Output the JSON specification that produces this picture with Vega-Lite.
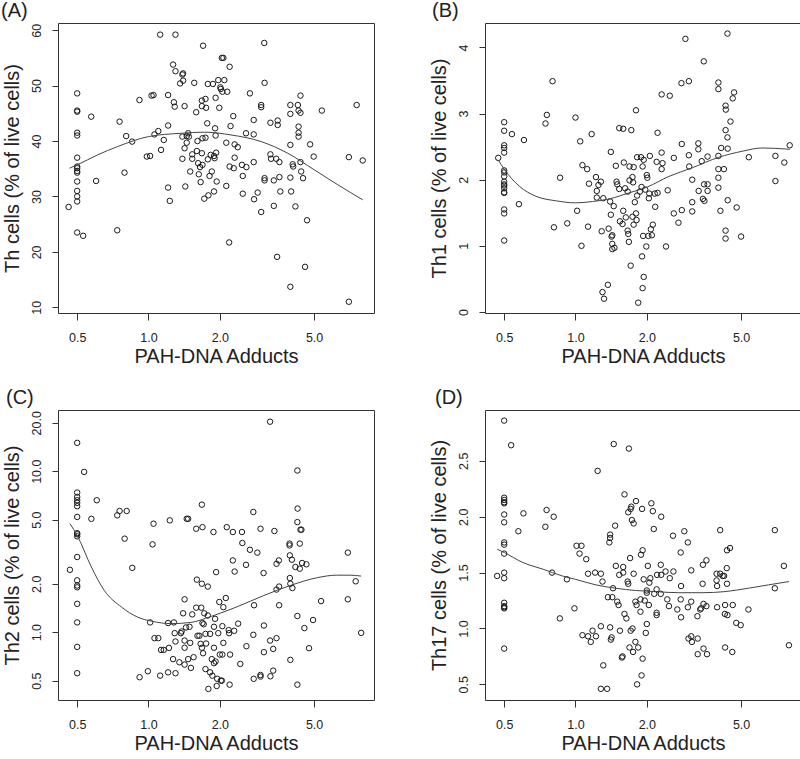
{
"$schema": "https://vega.github.io/schema/vega-lite/v6.json",
"padding": {"left": 0, "top": 0, "right": 0, "bottom": 0},
"background": "white",
"datasets": {
"A": [{"x":0.5,"y":48.6},{"x":0.5,"y":45.5},{"x":0.5,"y":45.3},{"x":0.5,"y":41.5},{"x":0.5,"y":41.0},{"x":0.5,"y":37.0},{"x":0.5,"y":35.4},{"x":0.5,"y":35.1},{"x":0.5,"y":34.6},{"x":0.5,"y":34.3},{"x":0.5,"y":32.7},{"x":0.5,"y":31.0},{"x":0.5,"y":30.0},{"x":0.5,"y":29.1},{"x":0.5,"y":23.5},{"x":0.46,"y":28.1},{"x":0.53,"y":22.9},
{"x":0.573,"y":44.4},{"x":0.601,"y":32.8},{"x":0.738,"y":23.9},{"x":0.755,"y":43.5},{"x":0.792,"y":34.3},{"x":0.805,"y":40.9},{"x":0.853,"y":39.9},{"x":0.916,"y":47.4},{"x":0.984,"y":37.2},{"x":1.016,"y":37.3},{"x":1.03,"y":48.2},{"x":1.05,"y":48.3},{"x":1.06,"y":41.2},{"x":1.10,"y":41.8},{"x":1.12,"y":59.2},{"x":1.13,"y":38.4},{"x":1.16,"y":40.2},{"x":1.21,"y":42.8},{"x":1.21,"y":48.3},{"x":1.21,"y":31.6},{"x":1.23,"y":29.2},{"x":1.27,"y":53.8},{"x":1.28,"y":47.0},{"x":1.29,"y":46.2},{"x":1.30,"y":52.6},{"x":1.30,"y":59.2},{"x":1.36,"y":50.4},{"x":1.39,"y":52.0},{"x":1.40,"y":52.2},{"x":1.40,"y":50.9},{"x":1.39,"y":40.8},{"x":1.39,"y":36.8},{"x":1.42,"y":38.7},{"x":1.42,"y":46.3},{"x":1.43,"y":31.8},{"x":1.45,"y":39.7},{"x":1.45,"y":40.9},{"x":1.47,"y":41.4},{"x":1.48,"y":40.8},{"x":1.50,"y":34.5},{"x":1.53,"y":37.6},{"x":1.53,"y":36.8},{"x":1.56,"y":50.5},{"x":1.59,"y":45.2},{"x":1.60,"y":38.2},{"x":1.61,"y":40.0},{"x":1.62,"y":36.0},{"x":1.63,"y":34.0},{"x":1.65,"y":35.3},{"x":1.66,"y":32.6},{"x":1.68,"y":47.3},{"x":1.68,"y":46.3},{"x":1.68,"y":37.8},{"x":1.69,"y":40.5},{"x":1.69,"y":35.7},{"x":1.70,"y":57.2},{"x":1.72,"y":29.6},{"x":1.74,"y":40.6},{"x":1.74,"y":47.6},{"x":1.75,"y":46.0},{"x":1.77,"y":43.2},{"x":1.78,"y":50.3},{"x":1.78,"y":36.7},{"x":1.79,"y":30.2},{"x":1.81,"y":33.7},{"x":1.83,"y":37.5},{"x":1.85,"y":34.5},{"x":1.87,"y":50.3},{"x":1.89,"y":30.9},{"x":1.89,"y":37.3},{"x":1.90,"y":36.9},{"x":1.91,"y":42.3},{"x":1.92,"y":47.8},{"x":1.92,"y":41.0},{"x":1.93,"y":37.9},{"x":1.94,"y":32.7},{"x":1.97,"y":51.0},{"x":1.99,"y":46.0},{"x":2.01,"y":49.7},{"x":2.02,"y":49.4},{"x":2.04,"y":55.0},{"x":2.07,"y":55.0},{"x":2.09,"y":51.0},{"x":2.05,"y":48.9},{"x":2.13,"y":39.7},{"x":2.15,"y":48.9},{"x":2.13,"y":31.9},{"x":2.20,"y":53.4},{"x":2.20,"y":35.4},{"x":2.22,"y":42.7},{"x":2.19,"y":21.7},{"x":2.28,"y":44.5},{"x":2.29,"y":35.1},{"x":2.31,"y":39.4},{"x":2.31,"y":37.0},{"x":2.38,"y":38.9},{"x":2.48,"y":35.7},{"x":2.50,"y":33.7},{"x":2.50,"y":30.5},{"x":2.58,"y":41.4},{"x":2.59,"y":35.3},{"x":2.68,"y":48.6},{"x":2.78,"y":43.8},{"x":2.78,"y":41.2},{"x":2.78,"y":36.2},{"x":2.79,"y":29.5},{"x":2.89,"y":30.7},{"x":2.99,"y":46.5},{"x":2.99,"y":46.1},{"x":2.99,"y":27.2},{"x":3.08,"y":57.7},{"x":3.09,"y":50.5},{"x":3.09,"y":33.3},{"x":3.09,"y":32.9},{"x":3.27,"y":43.3},{"x":3.27,"y":37.6},{"x":3.29,"y":36.8},{"x":3.38,"y":32.9},{"x":3.38,"y":28.3},{"x":3.46,"y":36.8},{"x":3.49,"y":19.1},{"x":3.51,"y":43.7},{"x":3.51,"y":42.9},{"x":3.57,"y":36.2},{"x":3.57,"y":33.5},{"x":3.60,"y":30.9},{"x":3.97,"y":46.5},{"x":3.97,"y":44.9},{"x":3.97,"y":39.3},{"x":3.97,"y":33.4},{"x":4.00,"y":30.9},{"x":3.97,"y":13.7},{"x":4.06,"y":35.8},{"x":4.08,"y":35.4},{"x":4.17,"y":28.2},{"x":4.27,"y":46.5},{"x":4.30,"y":45.5},{"x":4.30,"y":42.6},{"x":4.30,"y":41.5},{"x":4.30,"y":40.8},{"x":4.38,"y":48.2},{"x":4.38,"y":45.1},{"x":4.38,"y":36.2},{"x":4.41,"y":34.5},{"x":4.49,"y":33.3},{"x":4.58,"y":17.3},{"x":4.67,"y":25.7},{"x":4.81,"y":39.4},{"x":4.98,"y":37.2},{"x":5.39,"y":45.5},{"x":7.01,"y":37.1},{"x":7.01,"y":11.0},{"x":7.56,"y":46.5},{"x":8.02,"y":36.5}],
"cA": [{"x":0.464,"y":35.1},{"x":0.5,"y":35.7},{"x":0.61,"y":37.5},{"x":0.74,"y":39.0},{"x":1.0,"y":40.8},{"x":1.37,"y":41.4},{"x":1.72,"y":41.6},{"x":2.23,"y":41.1},{"x":2.99,"y":39.9},{"x":3.87,"y":37.8},{"x":5.01,"y":34.8},{"x":6.30,"y":32.1},{"x":8.02,"y":29.4}],
"B": [{"x":0.5,"y":2.87},{"x":0.5,"y":2.74},{"x":0.5,"y":2.52},{"x":0.5,"y":2.48},{"x":0.5,"y":2.41},{"x":0.5,"y":2.14},{"x":0.5,"y":2.11},{"x":0.5,"y":2.05},{"x":0.5,"y":1.97},{"x":0.5,"y":1.93},{"x":0.5,"y":1.91},{"x":0.5,"y":1.87},{"x":0.5,"y":1.81},{"x":0.5,"y":1.80},{"x":0.5,"y":1.55},{"x":0.5,"y":1.49},{"x":0.5,"y":1.08},
{"x":0.472,"y":2.33},{"x":0.539,"y":2.69},{"x":0.577,"y":1.63},{"x":0.606,"y":2.60},{"x":0.747,"y":2.85},{"x":0.757,"y":2.98},{"x":0.800,"y":3.49},{"x":0.811,"y":1.28},{"x":0.861,"y":2.03},{"x":0.923,"y":1.34},{"x":1.0,"y":2.94},{"x":1.016,"y":1.53},{"x":1.047,"y":2.58},{"x":1.06,"y":1.00},{"x":1.07,"y":2.22},{"x":1.12,"y":2.16},{"x":1.13,"y":1.29},{"x":1.14,"y":1.94},{"x":1.17,"y":2.69},{"x":1.22,"y":2.04},{"x":1.23,"y":1.83},{"x":1.23,"y":1.73},{"x":1.25,"y":1.92},{"x":1.28,"y":1.97},{"x":1.29,"y":1.22},{"x":1.30,"y":0.30},{"x":1.31,"y":1.72},{"x":1.32,"y":0.20},{"x":1.37,"y":0.41},{"x":1.38,"y":1.26},{"x":1.40,"y":1.67},{"x":1.41,"y":2.42},{"x":1.41,"y":1.47},{"x":1.42,"y":1.14},{"x":1.43,"y":1.16},{"x":1.43,"y":1.03},{"x":1.43,"y":0.95},{"x":1.46,"y":0.97},{"x":1.45,"y":1.60},{"x":1.48,"y":2.21},{"x":1.49,"y":1.97},{"x":1.50,"y":1.93},{"x":1.53,"y":1.86},{"x":1.53,"y":2.78},{"x":1.54,"y":1.37},{"x":1.58,"y":1.33},{"x":1.59,"y":1.53},{"x":1.59,"y":2.77},{"x":1.60,"y":2.26},{"x":1.62,"y":1.87},{"x":1.63,"y":1.43},{"x":1.66,"y":1.82},{"x":1.66,"y":1.23},{"x":1.67,"y":1.18},{"x":1.68,"y":1.06},{"x":1.69,"y":1.99},{"x":1.69,"y":2.20},{"x":1.71,"y":0.70},{"x":1.72,"y":2.75},{"x":1.74,"y":1.44},{"x":1.74,"y":2.04},{"x":1.75,"y":1.96},{"x":1.76,"y":1.32},{"x":1.76,"y":2.19},{"x":1.78,"y":1.66},{"x":1.80,"y":3.05},{"x":1.80,"y":1.49},{"x":1.81,"y":1.39},{"x":1.82,"y":2.34},{"x":1.82,"y":1.76},{"x":1.84,"y":0.14},{"x":1.87,"y":1.82},{"x":1.89,"y":2.34},{"x":1.90,"y":1.89},{"x":1.91,"y":0.84},{"x":1.92,"y":2.20},{"x":1.92,"y":0.36},{"x":1.93,"y":1.15},{"x":1.94,"y":0.53},{"x":1.94,"y":2.30},{"x":1.97,"y":1.85},{"x":1.99,"y":0.99},{"x":2.00,"y":2.07},{"x":2.01,"y":2.03},{"x":2.03,"y":1.15},{"x":2.04,"y":1.72},{"x":2.05,"y":1.79},{"x":2.06,"y":2.36},{"x":2.08,"y":1.25},{"x":2.10,"y":1.16},{"x":2.12,"y":1.32},{"x":2.16,"y":1.79},{"x":2.17,"y":1.59},{"x":2.20,"y":2.27},{"x":2.22,"y":2.71},{"x":2.22,"y":1.80},{"x":2.31,"y":3.29},{"x":2.31,"y":2.16},{"x":2.31,"y":2.41},{"x":2.33,"y":2.25},{"x":2.41,"y":0.99},{"x":2.45,"y":1.84},{"x":2.50,"y":3.27},{"x":2.60,"y":1.49},{"x":2.60,"y":2.33},{"x":2.72,"y":1.35},{"x":2.80,"y":3.46},{"x":2.81,"y":2.54},{"x":2.81,"y":1.54},{"x":2.91,"y":4.13},{"x":3.01,"y":2.37},{"x":3.01,"y":3.49},{"x":3.02,"y":2.20},{"x":3.11,"y":2.00},{"x":3.11,"y":1.66},{"x":3.11,"y":1.52},{"x":3.30,"y":2.55},{"x":3.30,"y":2.46},{"x":3.31,"y":1.83},{"x":3.41,"y":2.28},{"x":3.45,"y":1.71},{"x":3.48,"y":3.79},{"x":3.49,"y":1.93},{"x":3.50,"y":1.68},{"x":3.61,"y":2.35},{"x":3.61,"y":1.83},{"x":3.61,"y":1.93},{"x":4.01,"y":3.37},{"x":4.01,"y":3.47},{"x":4.01,"y":2.36},{"x":4.01,"y":2.16},{"x":4.01,"y":2.03},{"x":4.01,"y":1.88},{"x":4.09,"y":1.53},{"x":4.12,"y":2.48},{"x":4.23,"y":2.16},{"x":4.30,"y":3.12},{"x":4.31,"y":3.06},{"x":4.30,"y":2.75},{"x":4.30,"y":1.23},{"x":4.30,"y":1.11},{"x":4.38,"y":4.21},{"x":4.38,"y":2.64},{"x":4.39,"y":2.47},{"x":4.39,"y":1.69},{"x":4.51,"y":2.88},{"x":4.61,"y":3.23},{"x":4.67,"y":3.32},{"x":4.79,"y":1.58},{"x":5.00,"y":1.14},{"x":5.39,"y":2.34},{"x":6.98,"y":1.98},{"x":6.98,"y":2.36},{"x":7.61,"y":2.26},{"x":8.02,"y":2.52}],
"cB": [{"x":0.472,"y":2.30},{"x":0.5,"y":2.16},{"x":0.58,"y":1.90},{"x":0.68,"y":1.75},{"x":0.83,"y":1.68},{"x":1.0,"y":1.65},{"x":1.18,"y":1.67},{"x":1.39,"y":1.71},{"x":1.68,"y":1.80},{"x":2.01,"y":1.89},{"x":2.48,"y":2.05},{"x":3.11,"y":2.18},{"x":4.03,"y":2.34},{"x":5.05,"y":2.43},{"x":6.13,"y":2.48},{"x":8.02,"y":2.46}],
"C": [{"x":0.5,"y":15.0},{"x":0.5,"y":7.37},{"x":0.5,"y":6.92},{"x":0.5,"y":6.60},{"x":0.5,"y":6.36},{"x":0.5,"y":6.06},{"x":0.5,"y":5.2},{"x":0.5,"y":4.12},{"x":0.5,"y":4.06},{"x":0.5,"y":3.94},{"x":0.5,"y":2.93},{"x":0.5,"y":2.10},{"x":0.5,"y":1.95},{"x":0.5,"y":1.90},{"x":0.5,"y":1.50},{"x":0.5,"y":1.15},{"x":0.5,"y":0.81},{"x":0.5,"y":0.556},
{"x":0.466,"y":2.44},{"x":0.535,"y":9.9},{"x":0.574,"y":5.06},{"x":0.605,"y":6.60},{"x":0.738,"y":5.32},{"x":0.755,"y":5.66},{"x":0.793,"y":3.81},{"x":0.809,"y":5.66},{"x":0.854,"y":2.51},{"x":0.917,"y":0.525},{"x":0.994,"y":0.572},{"x":1.016,"y":1.15},{"x":1.05,"y":4.72},{"x":1.04,"y":3.51},{"x":1.06,"y":0.918},{"x":1.10,"y":0.918},{"x":1.12,"y":0.537},{"x":1.13,"y":0.776},{"x":1.16,"y":0.776},{"x":1.21,"y":0.563},{"x":1.21,"y":1.14},{"x":1.22,"y":0.799},{"x":1.23,"y":4.95},{"x":1.28,"y":1.15},{"x":1.29,"y":0.986},{"x":1.30,"y":0.556},{"x":1.30,"y":0.875},{"x":1.27,"y":0.68},{"x":1.35,"y":0.65},{"x":1.37,"y":0.986},{"x":1.38,"y":1.01},{"x":1.40,"y":1.31},{"x":1.42,"y":1.60},{"x":1.42,"y":0.887},{"x":1.42,"y":0.80},{"x":1.42,"y":0.629},{"x":1.44,"y":1.07},{"x":1.45,"y":5.06},{"x":1.47,"y":5.06},{"x":1.47,"y":0.68},{"x":1.50,"y":0.858},{"x":1.51,"y":0.60},{"x":1.49,"y":1.08},{"x":1.53,"y":1.29},{"x":1.55,"y":0.699},{"x":1.59,"y":4.39},{"x":1.59,"y":1.42},{"x":1.60,"y":2.12},{"x":1.61,"y":0.95},{"x":1.64,"y":0.95},{"x":1.66,"y":0.846},{"x":1.67,"y":1.42},{"x":1.68,"y":6.20},{"x":1.68,"y":2.0},{"x":1.68,"y":0.80},{"x":1.69,"y":4.49},{"x":1.69,"y":1.14},{"x":1.70,"y":0.74},{"x":1.71,"y":1.12},{"x":1.72,"y":1.31},{"x":1.74,"y":0.59},{"x":1.74,"y":0.976},{"x":1.75,"y":0.85},{"x":1.78,"y":1.92},{"x":1.78,"y":1.27},{"x":1.79,"y":0.444},{"x":1.82,"y":0.563},{"x":1.82,"y":0.976},{"x":1.85,"y":0.68},{"x":1.86,"y":0.537},{"x":1.88,"y":4.19},{"x":1.89,"y":0.80},{"x":1.89,"y":0.642},{"x":1.89,"y":1.08},{"x":1.91,"y":1.21},{"x":1.92,"y":0.657},{"x":1.93,"y":2.36},{"x":1.94,"y":0.463},{"x":1.95,"y":0.513},{"x":1.97,"y":0.986},{"x":1.99,"y":1.54},{"x":2.0,"y":0.726},{"x":2.02,"y":0.50},{"x":2.04,"y":0.50},{"x":2.05,"y":1.09},{"x":2.07,"y":1.43},{"x":2.05,"y":0.726},{"x":2.07,"y":0.858},{"x":2.12,"y":1.63},{"x":2.14,"y":4.49},{"x":2.18,"y":1.03},{"x":2.19,"y":0.986},{"x":2.20,"y":0.472},{"x":2.21,"y":0.726},{"x":2.27,"y":2.79},{"x":2.27,"y":4.19},{"x":2.30,"y":1.02},{"x":2.31,"y":2.38},{"x":2.39,"y":1.13},{"x":2.44,"y":0.635},{"x":2.48,"y":4.19},{"x":2.49,"y":3.58},{"x":2.58,"y":2.62},{"x":2.59,"y":0.818},{"x":2.68,"y":3.25},{"x":2.77,"y":5.58},{"x":2.77,"y":0.963},{"x":2.79,"y":1.47},{"x":2.78,"y":0.513},{"x":2.88,"y":3.12},{"x":2.97,"y":4.39},{"x":2.97,"y":0.542},{"x":2.97,"y":0.53},{"x":3.06,"y":2.33},{"x":3.07,"y":1.10},{"x":3.07,"y":0.751},{"x":3.26,"y":20.3},{"x":3.26,"y":0.887},{"x":3.27,"y":0.532},{"x":3.36,"y":0.577},{"x":3.36,"y":0.787},{"x":3.40,"y":4.25},{"x":3.47,"y":2.66},{"x":3.47,"y":1.84},{"x":3.47,"y":0.918},{"x":3.55,"y":2.79},{"x":3.56,"y":1.92},{"x":3.56,"y":1.47},{"x":3.94,"y":3.55},{"x":3.94,"y":3.46},{"x":3.95,"y":3.0},{"x":3.95,"y":2.17},{"x":3.97,"y":2.0},{"x":3.97,"y":0.673},{"x":4.03,"y":2.82},{"x":4.05,"y":1.88},{"x":4.17,"y":2.54},{"x":4.25,"y":10.1},{"x":4.26,"y":5.86},{"x":4.25,"y":4.83},{"x":4.25,"y":1.26},{"x":4.25,"y":0.472},{"x":4.35,"y":2.48},{"x":4.35,"y":3.55},{"x":4.38,"y":4.33},{"x":4.42,"y":4.33},{"x":4.45,"y":2.69},{"x":4.55,"y":1.06},{"x":4.64,"y":2.64},{"x":4.76,"y":0.795},{"x":4.95,"y":1.19},{"x":5.35,"y":1.56},{"x":6.94,"y":3.12},{"x":6.94,"y":1.60},{"x":7.49,"y":2.07},{"x":7.90,"y":0.99}],
"cC": [{"x":0.466,"y":4.72},{"x":0.5,"y":3.99},{"x":0.574,"y":2.54},{"x":0.65,"y":1.82},{"x":0.77,"y":1.43},{"x":0.90,"y":1.24},{"x":1.03,"y":1.17},{"x":1.25,"y":1.13},{"x":1.51,"y":1.15},{"x":1.83,"y":1.25},{"x":2.37,"y":1.44},{"x":3.07,"y":1.69},{"x":3.97,"y":1.95},{"x":5.15,"y":2.18},{"x":6.23,"y":2.26},{"x":7.10,"y":2.26},{"x":7.90,"y":2.23}],
"D": [{"x":0.5,"y":2.86},{"x":0.5,"y":2.17},{"x":0.5,"y":2.15},{"x":0.5,"y":2.13},{"x":0.5,"y":2.12},{"x":0.5,"y":2.02},{"x":0.5,"y":1.95},{"x":0.5,"y":1.77},{"x":0.5,"y":1.75},{"x":0.5,"y":1.67},{"x":0.5,"y":1.50},{"x":0.5,"y":1.45},{"x":0.5,"y":1.23},{"x":0.5,"y":1.20},{"x":0.5,"y":1.19},{"x":0.5,"y":1.18},{"x":0.5,"y":0.82},
{"x":0.467,"y":1.47},{"x":0.535,"y":2.64},{"x":0.574,"y":1.87},{"x":0.603,"y":2.03},{"x":0.746,"y":1.91},{"x":0.755,"y":2.06},{"x":0.796,"y":1.50},{"x":0.809,"y":2.0},{"x":0.859,"y":1.09},{"x":0.920,"y":1.44},{"x":0.99,"y":1.18},{"x":1.01,"y":1.74},{"x":1.04,"y":1.67},{"x":1.06,"y":1.74},{"x":1.07,"y":0.94},{"x":1.11,"y":1.62},{"x":1.13,"y":1.49},{"x":1.13,"y":0.93},{"x":1.16,"y":0.88},{"x":1.18,"y":0.98},{"x":1.21,"y":1.50},{"x":1.22,"y":0.93},{"x":1.24,"y":2.41},{"x":1.28,"y":1.49},{"x":1.28,"y":1.02},{"x":1.30,"y":1.42},{"x":1.28,"y":0.46},{"x":1.31,"y":0.67},{"x":1.36,"y":0.46},{"x":1.37,"y":1.28},{"x":1.39,"y":1.77},{"x":1.40,"y":1.01},{"x":1.40,"y":1.84},{"x":1.40,"y":1.81},{"x":1.41,"y":0.90},{"x":1.42,"y":0.92},{"x":1.43,"y":1.28},{"x":1.44,"y":1.36},{"x":1.45,"y":2.65},{"x":1.47,"y":1.92},{"x":1.48,"y":1.56},{"x":1.50,"y":1.24},{"x":1.52,"y":1.21},{"x":1.53,"y":1.48},{"x":1.54,"y":0.98},{"x":1.57,"y":0.74},{"x":1.58,"y":0.75},{"x":1.59,"y":1.55},{"x":1.59,"y":1.50},{"x":1.61,"y":2.20},{"x":1.61,"y":1.13},{"x":1.64,"y":1.09},{"x":1.66,"y":1.42},{"x":1.67,"y":2.04},{"x":1.67,"y":1.40},{"x":1.68,"y":2.61},{"x":1.69,"y":0.83},{"x":1.70,"y":1.63},{"x":1.71,"y":2.07},{"x":1.71,"y":0.98},{"x":1.72,"y":2.09},{"x":1.73,"y":1.97},{"x":1.74,"y":1.00},{"x":1.75,"y":0.79},{"x":1.76,"y":1.49},{"x":1.76,"y":1.94},{"x":1.79,"y":1.24},{"x":1.79,"y":0.88},{"x":1.80,"y":2.14},{"x":1.81,"y":1.21},{"x":1.82,"y":0.50},{"x":1.84,"y":0.83},{"x":1.88,"y":1.15},{"x":1.88,"y":1.26},{"x":1.89,"y":1.66},{"x":1.90,"y":0.58},{"x":1.91,"y":2.07},{"x":1.92,"y":1.70},{"x":1.92,"y":0.73},{"x":1.94,"y":1.44},{"x":1.96,"y":1.25},{"x":1.98,"y":0.96},{"x":2.00,"y":1.04},{"x":2.00,"y":1.34},{"x":2.00,"y":1.32},{"x":2.02,"y":1.56},{"x":2.04,"y":1.21},{"x":2.05,"y":1.41},{"x":2.07,"y":1.45},{"x":2.09,"y":2.12},{"x":2.12,"y":2.05},{"x":2.14,"y":1.89},{"x":2.15,"y":1.31},{"x":2.20,"y":1.35},{"x":2.21,"y":1.48},{"x":2.20,"y":1.14},{"x":2.20,"y":1.12},{"x":2.29,"y":1.57},{"x":2.30,"y":1.48},{"x":2.30,"y":2.0},{"x":2.29,"y":1.31},{"x":2.40,"y":1.51},{"x":2.44,"y":1.26},{"x":2.48,"y":1.20},{"x":2.50,"y":1.45},{"x":2.58,"y":1.83},{"x":2.59,"y":1.51},{"x":2.69,"y":1.17},{"x":2.78,"y":1.68},{"x":2.79,"y":1.38},{"x":2.78,"y":1.26},{"x":2.79,"y":1.10},{"x":2.88,"y":1.87},{"x":2.98,"y":1.77},{"x":2.98,"y":1.19},{"x":3.00,"y":0.91},{"x":3.08,"y":1.52},{"x":3.08,"y":1.24},{"x":3.08,"y":0.93},{"x":3.10,"y":0.88},{"x":3.27,"y":1.11},{"x":3.28,"y":0.91},{"x":3.28,"y":0.77},{"x":3.36,"y":1.17},{"x":3.39,"y":1.18},{"x":3.44,"y":1.40},{"x":3.45,"y":1.57},{"x":3.47,"y":1.22},{"x":3.47,"y":0.82},{"x":3.57,"y":1.61},{"x":3.57,"y":1.20},{"x":3.59,"y":0.77},{"x":3.94,"y":1.49},{"x":3.94,"y":1.43},{"x":3.96,"y":1.38},{"x":3.96,"y":1.19},{"x":4.08,"y":1.88},{"x":4.08,"y":1.49},{"x":4.18,"y":1.47},{"x":4.24,"y":1.47},{"x":4.28,"y":1.21},{"x":4.27,"y":1.13},{"x":4.28,"y":0.83},{"x":4.35,"y":1.54},{"x":4.36,"y":1.70},{"x":4.36,"y":1.40},{"x":4.38,"y":1.12},{"x":4.49,"y":1.72},{"x":4.61,"y":1.21},{"x":4.59,"y":0.79},{"x":4.77,"y":1.05},{"x":4.98,"y":1.03},{"x":5.37,"y":1.17},{"x":6.94,"y":1.88},{"x":6.94,"y":1.36},{"x":7.58,"y":1.56},{"x":7.96,"y":0.85}],
"cD": [{"x":0.467,"y":1.71},{"x":0.5,"y":1.68},{"x":0.60,"y":1.59},{"x":0.73,"y":1.53},{"x":0.88,"y":1.47},{"x":1.0,"y":1.44},{"x":1.22,"y":1.39},{"x":1.48,"y":1.36},{"x":1.79,"y":1.34},{"x":2.17,"y":1.33},{"x":2.73,"y":1.32},{"x":3.42,"y":1.32},{"x":4.28,"y":1.33},{"x":5.36,"y":1.36},{"x":6.52,"y":1.39},{"x":7.96,"y":1.42}]
},
"columns": 2,
"spacing": {"row": 20, "column": 53},
"concat": [
{"width": 316, "height": 290, "title": {"text": "(A)", "dx": -57},
 "layer": [
  {"data": {"name": "A"}, "mark": {"type": "point", "shape": "circle", "filled": false, "size": 30, "strokeWidth": 1, "color": "#1a1a1a", "opacity": 1},
   "encoding": {
    "x": {"field": "x", "type": "quantitative", "scale": {"type": "log", "domain": [0.415, 8.95], "nice": false}, "axis": {"title": "PAH-DNA Adducts", "values": [0.5, 1, 2, 5], "format": ".1f"}},
    "y": {"field": "y", "type": "quantitative", "scale": {"domain": [8.97, 61.3], "nice": false, "zero": false}, "axis": {"title": "Th cells (% of live cells)", "values": [10, 20, 30, 40, 50, 60], "format": "d"}}}},
  {"data": {"name": "cA"}, "mark": {"type": "line", "color": "#444", "strokeWidth": 1, "interpolate": "monotone"},
   "encoding": {"x": {"field": "x", "type": "quantitative"}, "y": {"field": "y", "type": "quantitative"}}}
 ]},
{"width": 316, "height": 290, "title": {"text": "(B)", "dx": -53},
 "layer": [
  {"data": {"name": "B"}, "mark": {"type": "point", "shape": "circle", "filled": false, "size": 30, "strokeWidth": 1, "color": "#1a1a1a", "opacity": 1},
   "encoding": {
    "x": {"field": "x", "type": "quantitative", "scale": {"type": "log", "domain": [0.415, 8.95], "nice": false}, "axis": {"title": "PAH-DNA Adducts", "values": [0.5, 1, 2, 5], "format": ".1f"}},
    "y": {"field": "y", "type": "quantitative", "scale": {"domain": [-0.016, 4.37], "nice": false, "zero": false}, "axis": {"title": "Th1 cells (% of live cells)", "values": [0, 1, 2, 3, 4], "format": "d"}}}},
  {"data": {"name": "cB"}, "mark": {"type": "line", "color": "#444", "strokeWidth": 1, "interpolate": "monotone"},
   "encoding": {"x": {"field": "x", "type": "quantitative"}, "y": {"field": "y", "type": "quantitative"}}}
 ]},
{"width": 316, "height": 290, "title": {"text": "(C)", "dx": -52},
 "layer": [
  {"data": {"name": "C"}, "mark": {"type": "point", "shape": "circle", "filled": false, "size": 30, "strokeWidth": 1, "color": "#1a1a1a", "opacity": 1},
   "encoding": {
    "x": {"field": "x", "type": "quantitative", "scale": {"type": "log", "domain": [0.415, 8.95], "nice": false}, "axis": {"title": "PAH-DNA Adducts", "values": [0.5, 1, 2, 5], "format": ".1f"}},
    "y": {"field": "y", "type": "quantitative", "scale": {"type": "log", "domain": [0.379, 24], "nice": false}, "axis": {"title": "Th2 cells (% of live cells)", "values": [0.5, 1, 2, 5, 10, 20], "format": ".1f"}}}},
  {"data": {"name": "cC"}, "mark": {"type": "line", "color": "#444", "strokeWidth": 1, "interpolate": "monotone"},
   "encoding": {"x": {"field": "x", "type": "quantitative"}, "y": {"field": "y", "type": "quantitative"}}}
 ]},
{"width": 316, "height": 290, "title": {"text": "(D)", "dx": -50},
 "layer": [
  {"data": {"name": "D"}, "mark": {"type": "point", "shape": "circle", "filled": false, "size": 30, "strokeWidth": 1, "color": "#1a1a1a", "opacity": 1},
   "encoding": {
    "x": {"field": "x", "type": "quantitative", "scale": {"type": "log", "domain": [0.415, 8.95], "nice": false}, "axis": {"title": "PAH-DNA Adducts", "values": [0.5, 1, 2, 5], "format": ".1f"}},
    "y": {"field": "y", "type": "quantitative", "scale": {"domain": [0.36, 2.955], "nice": false, "zero": false}, "axis": {"title": "Th17 cells (% of live cells)", "values": [0.5, 1, 1.5, 2, 2.5], "format": ".1f"}}}},
  {"data": {"name": "cD"}, "mark": {"type": "line", "color": "#444", "strokeWidth": 1, "interpolate": "monotone"},
   "encoding": {"x": {"field": "x", "type": "quantitative"}, "y": {"field": "y", "type": "quantitative"}}}
 ]}
],
"config": {
 "view": {"stroke": "#333", "strokeWidth": 1},
 "axis": {"domain": false, "grid": false, "ticks": true, "tickColor": "#333", "tickWidth": 1, "labelFont": "Liberation Sans", "labelFontSize": 12.5, "labelColor": "#222", "titleFont": "Liberation Sans", "titleFontSize": 20, "titleFontWeight": "normal", "titleColor": "#222", "labelFlush": false},
 "axisX": {"tickSize": 7, "labelPadding": 11, "titlePadding": 3},
 "axisY": {"tickSize": 6, "labelAngle": 270, "labelAlign": "center", "labelBaseline": "bottom", "labelPadding": 9, "titlePadding": 8},
 "title": {"anchor": "start", "frame": "group", "fontSize": 20, "fontWeight": "normal", "font": "Liberation Sans", "offset": 2, "color": "#222"}
}
}
